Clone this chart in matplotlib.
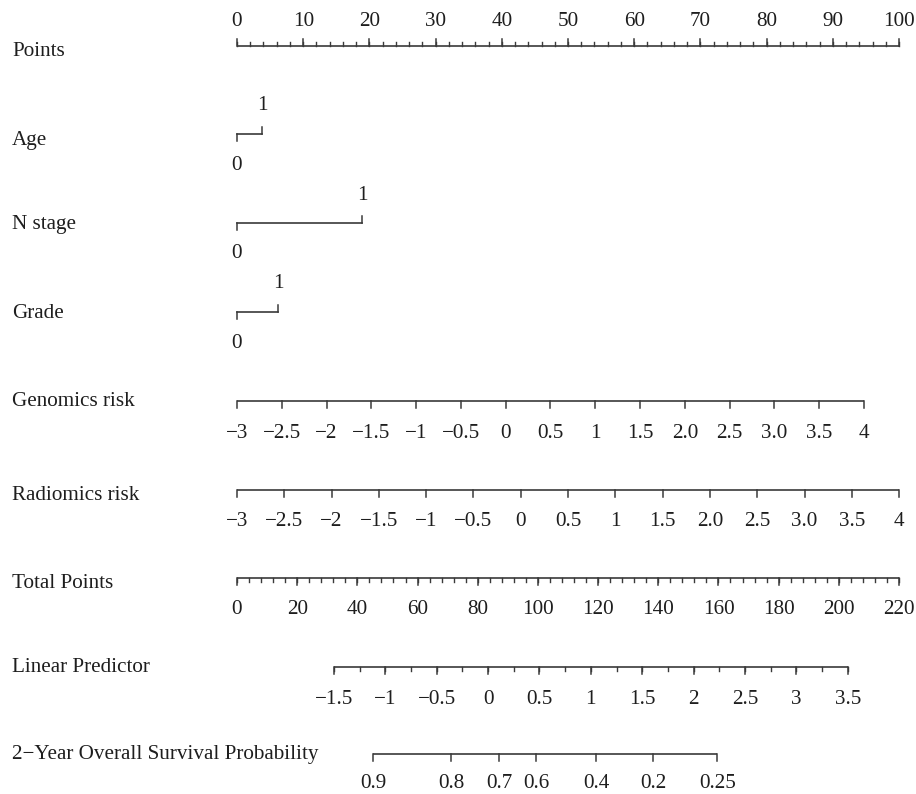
import numpy as np
import matplotlib
matplotlib.use("Agg")
import matplotlib.pyplot as plt

plt.rcParams['font.family'] = ['Liberation Serif', 'DejaVu Serif']

# ---- data (in nomogram "points" units) ----
points_ticks = np.arange(0, 101, 10)
points_minor = np.arange(0, 101, 2)

age_points = [0, 3.8]
nstage_points = [0, 18.9]
grade_points = [0, 6.2]

risk_values = np.arange(-3, 4.01, 0.5)
risk_labels = ['\u22123', '\u22122.5', '\u22122', '\u22121.5', '\u22121', '\u22120.5', '0',
               '0.5', '1', '1.5', '2.0', '2.5', '3.0', '3.5', '4']
genomics_per_unit = 13.53   # points per unit of genomics risk
radiomics_per_unit = 14.29  # points per unit of radiomics risk

total_ticks = np.arange(0, 221, 20)
total_minor = np.arange(0, 221, 4)
total_scale = 100 / 220.0   # total points -> points axis

lp_values = np.arange(-1.5, 3.51, 0.5)
lp_labels = ['\u22121.5', '\u22121', '\u22120.5', '0', '0.5', '1', '1.5', '2', '2.5', '3', '3.5']
lp_minor = np.arange(-1.5, 3.51, 0.25)
lp_origin = 32.2            # total points at LP = -1.5
lp_per_unit = 34.16         # total points per LP unit

surv_labels = ['0.9', '0.8', '0.7', '0.6', '0.4', '0.2', '0.25']
surv_total = [45.2, 71.1, 87.1, 99.4, 119.3, 138.3, 159.6]

row_names = ['Points', 'Age', 'N stage', 'Grade', 'Genomics risk', 'Radiomics risk',
             'Total Points', 'Linear Predictor', '2\u2212Year Overall Survival Probability']

# ---- layout ----
W, H = 916, 794
x_start, px_per_pt = 237, 6.62
row_y = [46, 134, 223, 312, 401, 490, 578, 667, 754]
name_y = [51, 141, 225, 314, 401, 495, 583, 668, 755]
line_col = '#3a3a3a'
text_col = '#1e1e1e'
fs = 15.2
major_len, minor_len = 7, 4

fig = plt.figure(figsize=(W / 100, H / 100), dpi=100)
ax = fig.add_axes([0, 0, 1, 1])
ax.set_xlim(-x_start / px_per_pt, (W - x_start) / px_per_pt)
ax.set_ylim(H, 0)
ax.axis('off')


def draw_scale(y, major, labels, minor=None, direction=1, label_dy=32):
    """Horizontal scale with ticks hanging down (direction=1) or up (-1)."""
    ax.plot([min(major), max(major)], [y, y], color=line_col, lw=1.2,
            solid_capstyle='butt')
    if minor is not None:
        for m in minor:
            ax.plot([m, m], [y, y + direction * minor_len], color=line_col, lw=1.0)
    for v, lab in zip(major, labels):
        ax.plot([v, v], [y, y + direction * major_len], color=line_col, lw=1.1)
        ax.text(v, y + direction * label_dy, lab, ha='center', va='center',
                fontsize=fs, color=text_col)


def draw_binary(y, pts):
    ax.plot(pts, [y, y], color=line_col, lw=1.2)
    ax.plot([pts[0], pts[0]], [y, y + major_len], color=line_col, lw=1.1)
    ax.plot([pts[1], pts[1]], [y, y - major_len], color=line_col, lw=1.1)
    ax.text(pts[0], y + 31, '0', ha='center', va='center', fontsize=fs, color=text_col)
    ax.text(pts[1], y - 28, '1', ha='center', va='center', fontsize=fs, color=text_col)


# row names
for name, y in zip(row_names, name_y):
    ax.text(-x_start / px_per_pt + 12 / px_per_pt, y, name, ha='left', va='center',
            fontsize=fs, color=text_col)

# Points
draw_scale(row_y[0], points_ticks, [str(t) for t in points_ticks], points_minor,
           direction=-1, label_dy=25)

# binary predictors
draw_binary(row_y[1], age_points)
draw_binary(row_y[2], nstage_points)
draw_binary(row_y[3], grade_points)

# continuous risks
draw_scale(row_y[4], (risk_values + 3) * genomics_per_unit, risk_labels)
draw_scale(row_y[5], (risk_values + 3) * radiomics_per_unit, risk_labels)

# Total points
draw_scale(row_y[6], total_ticks * total_scale, [str(t) for t in total_ticks],
           total_minor * total_scale)

# Linear predictor
lp_x = (lp_origin + (lp_values + 1.5) * lp_per_unit) * total_scale
lp_mx = (lp_origin + (lp_minor + 1.5) * lp_per_unit) * total_scale
draw_scale(row_y[7], lp_x, lp_labels, lp_mx)

# Survival probability
draw_scale(row_y[8], np.array(surv_total) * total_scale, surv_labels, label_dy=29)

fig.savefig('out.png', dpi=100)
